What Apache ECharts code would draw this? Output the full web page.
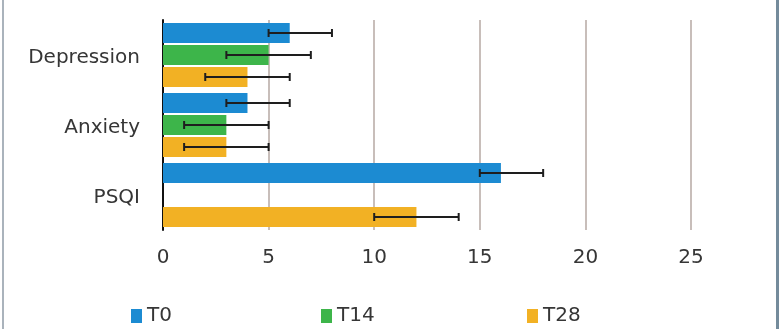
<!DOCTYPE html>
<html>
<head>
<meta charset="utf-8">
<script src="https://cdn.jsdelivr.net/npm/echarts@6/dist/echarts.min.js"></script>
<style>
  html, body { margin: 0; padding: 0; background: #fff; }
  #chart { width: 783px; height: 329px; }
</style>
</head>
<body>
<div id="chart"></div>
<script>
// Scales (top to bottom)
const categories = ['Depression', 'Anxiety', 'PSQI'];
const timePoints = ['T0', 'T14', 'T28'];

// Mean scores per time point (null = not measured)
const t0Values  = [6, 4, 16];
const t14Values = [5, 3, null];
const t28Values = [4, 3, 12];

// Error bar extents (low / high) per time point
const t0Low   = [5, 3, 15];
const t0High  = [8, 6, 18];
const t14Low  = [3, 1, null];
const t14High = [7, 5, null];
const t28Low  = [2, 1, 10];
const t28High = [6, 5, 14];

// Value-axis ticks
const xTicks = [0, 5, 10, 15, 20, 25];

const colors = ['#1c8bd2', '#3db54a', '#f2b124'];
const textColor = '#363636';
const font = 'DejaVu Sans';

const BAR_W = 20;
const BAR_GAP = 2;

const valueSets = [t0Values, t14Values, t28Values];
const lowSets = [t0Low, t14Low, t28Low];
const highSets = [t0High, t14High, t28High];

function errorSeries(idx) {
  const data = categories.map((c, i) =>
    lowSets[idx][i] == null ? null : [lowSets[idx][i], highSets[idx][i], i]);
  return {
    type: 'custom',
    name: timePoints[idx] + ' error',
    silent: true,
    z: 5,
    data: data.filter(d => d !== null),
    encode: { x: [0, 1], y: 2 },
    renderItem: function (params, api) {
      const lo = api.coord([api.value(0), api.value(2)]);
      const hi = api.coord([api.value(1), api.value(2)]);
      const off = (idx - 1) * (BAR_W + BAR_GAP);
      const y = lo[1] + off;
      const cap = 4;
      const style = { stroke: '#1e1e1e', lineWidth: 2 };
      return {
        type: 'group',
        children: [
          { type: 'line', shape: { x1: lo[0], y1: y, x2: hi[0], y2: y }, style: style },
          { type: 'line', shape: { x1: lo[0], y1: y - cap, x2: lo[0], y2: y + cap }, style: style },
          { type: 'line', shape: { x1: hi[0], y1: y - cap, x2: hi[0], y2: y + cap }, style: style }
        ]
      };
    }
  };
}

const barSeries = timePoints.map((name, idx) => ({
  type: 'bar',
  name: name,
  data: valueSets[idx],
  barWidth: BAR_W,
  barGap: (BAR_GAP / BAR_W * 100) + '%',
  itemStyle: { color: colors[idx] },
  z: 2
}));

const legendLefts = [126, 316, 522];
const legends = timePoints.map((name, idx) => ({
  data: [name],
  left: legendLefts[idx],
  top: 301,
  itemWidth: 11,
  itemHeight: 14,
  icon: 'rect',
  textStyle: { fontFamily: font, fontSize: 20, color: textColor }
}));

const chart = echarts.init(document.getElementById('chart'), null, { renderer: 'canvas' });
chart.setOption({
  animation: false,
  backgroundColor: '#ffffff',
  grid: { left: 163, right: 92, top: 20, bottom: 99, containLabel: false },
  xAxis: {
    type: 'value',
    min: xTicks[0],
    max: xTicks[xTicks.length - 1],
    interval: xTicks[1] - xTicks[0],
    axisLine: { show: false },
    axisTick: { show: false },
    axisLabel: { fontFamily: font, fontSize: 20, color: textColor, margin: 18 },
    splitLine: { show: true, lineStyle: { color: '#c8beba', width: 2 } }
  },
  yAxis: {
    type: 'category',
    data: categories,
    inverse: true,
    axisLine: { show: true, lineStyle: { color: '#111', width: 2 } },
    axisTick: { show: false },
    axisLabel: {
      margin: 23,
      formatter: v => '{c|' + v + '}',
      rich: { c: { fontFamily: font, fontSize: 20, color: textColor, padding: [6, 0, 0, 0] } }
    }
  },
  legend: legends,
  series: barSeries.concat([errorSeries(0), errorSeries(1), errorSeries(2)]),
  graphic: [
    { type: 'rect', left: 2, top: 0, shape: { width: 2, height: 329 }, style: { fill: '#aab3bc' }, silent: true },
    { type: 'rect', left: 776, top: 0, shape: { width: 3, height: 329 }, style: { fill: '#748b9b' }, silent: true }
  ]
});
</script>
</body>
</html>
